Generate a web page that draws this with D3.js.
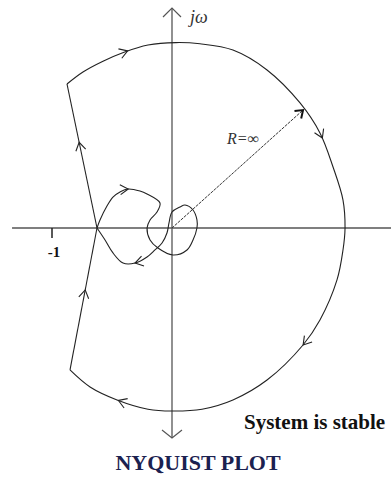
<!DOCTYPE html>
<html>
<head>
<meta charset="utf-8">
<script src="https://cdn.jsdelivr.net/npm/d3@7"></script>
<style>
  body { margin: 0; background: #fff; }
  svg { display: block; }
  .serif { font-family: "Liberation Serif", "Times New Roman", serif; }
</style>
</head>
<body>
<svg id="chart" width="391" height="478"></svg>
<script>
// contour points in the G(s)H(s) plane, [re, im]
var arcPts = [
  [-0.875, 1.2], [-0.742, 1.3], [-0.575, 1.39], [-0.4, 1.465], [-0.2, 1.525],
  [0.033, 1.545], [0.233, 1.535], [0.508, 1.483], [0.792, 1.317], [1.067, 1.042],
  [1.233, 0.792], [1.342, 0.508], [1.425, 0.233], [1.442, 0], [1.425, -0.183],
  [1.375, -0.433], [1.233, -0.767], [1.092, -0.975], [0.792, -1.267], [0.508, -1.433],
  [0.25, -1.51], [0, -1.525], [-0.2, -1.51], [-0.458, -1.433], [-0.683, -1.325],
  [-0.85, -1.183]
];
var lowerLeft = [[-0.85, -1.183], [-0.625, 0]];
var upperLeft = [[-0.625, 0], [-0.875, 1.2]];

var loopPts = [
  [-0.625, 0], [-0.6, 0.067], [-0.542, 0.183], [-0.492, 0.258], [-0.433, 0.3],
  [-0.367, 0.325], [-0.267, 0.308], [-0.208, 0.283], [-0.1, 0.208], [-0.125, 0.133],
  [-0.183, 0.067], [-0.208, 0], [-0.183, -0.1], [-0.117, -0.167], [0.008, -0.225],
  [0.125, -0.183], [0.175, -0.1], [0.208, 0], [0.208, 0.067], [0.175, 0.15],
  [0.108, 0.192], [0.067, 0.175], [0, 0.133], [-0.025, 0.042], [-0.042, -0.042],
  [-0.083, -0.125], [-0.142, -0.183], [-0.208, -0.242], [-0.308, -0.292], [-0.408, -0.292],
  [-0.492, -0.208], [-0.558, -0.1], [-0.625, 0]
];

// R = infinity radius vector
var radius = [[0, 0], [1.092, 0.983]];

// direction arrows: which curve, and roughly where
var arrows = [
  { on: "arc", at: [-0.375, 1.492] },
  { on: "arc", at: [1.25, 0.75] },
  { on: "arc", at: [1.092, -0.975] },
  { on: "arc", at: [-0.45, -1.442] },
  { on: "lowerLeft", at: [-0.708, -0.517] },
  { on: "upperLeft", at: [-0.792, 0.708] },
  { on: "loop", at: [-0.367, 0.325] },
  { on: "loop", at: [-0.308, -0.292] }
];

var reRange = [-1.333, 1.825];
var imRange = [-1.75, 1.833];
var ticks = [-1];

var svg = d3.select("#chart");
var x = d3.scaleLinear().domain([-1, 0]).range([52, 172]);
var y = d3.scaleLinear().domain([0, 1]).range([228, 108]);

var ink = "#222";
var axisInk = "#555";

// axes
svg.append("line")
  .attr("x1", x(reRange[0])).attr("x2", x(reRange[1]))
  .attr("y1", y(0)).attr("y2", y(0))
  .attr("stroke", axisInk).attr("stroke-width", 1.3);
svg.append("line")
  .attr("x1", x(0)).attr("x2", x(0))
  .attr("y1", y(imRange[1])).attr("y2", y(imRange[0]))
  .attr("stroke", axisInk).attr("stroke-width", 1.3);

// open arrowheads
function chevron(g, px, py, ang, len, spread, w, col) {
  g.append("path")
    .attr("d", "M" + (-len) + "," + (-spread) + " L0,0 L" + (-len) + "," + spread)
    .attr("transform", "translate(" + px + "," + py + ") rotate(" + (ang * 180 / Math.PI) + ")")
    .attr("fill", "none").attr("stroke", col).attr("stroke-width", w)
    .attr("stroke-linejoin", "miter");
}
chevron(svg, x(0), y(imRange[1]), -Math.PI / 2, 9, 9, 1.2, axisInk);
chevron(svg, x(0), y(imRange[0]), Math.PI / 2, 8, 10, 1.2, axisInk);

// tick at -1
ticks.forEach(function(t) {
  svg.append("line")
    .attr("x1", x(t)).attr("x2", x(t))
    .attr("y1", y(0)).attr("y2", y(0) + 10)
    .attr("stroke", ink).attr("stroke-width", 1.5);
  svg.append("text").attr("class", "serif")
    .attr("x", x(t) + 2).attr("y", 257)
    .attr("text-anchor", "middle")
    .attr("font-size", 15).attr("font-weight", "bold")
    .attr("fill", "#111")
    .text(t);
});

// curves
var smooth = d3.line().x(function(d) { return x(d[0]); }).y(function(d) { return y(d[1]); })
  .curve(d3.curveCatmullRom.alpha(0.5));
var straight = d3.line().x(function(d) { return x(d[0]); }).y(function(d) { return y(d[1]); });

var paths = {};
paths.arc = svg.append("path").attr("d", smooth(arcPts));
paths.lowerLeft = svg.append("path").attr("d", straight(lowerLeft));
paths.upperLeft = svg.append("path").attr("d", straight(upperLeft));
paths.loop = svg.append("path").attr("d", smooth(loopPts));
Object.keys(paths).forEach(function(k) {
  paths[k].attr("fill", "none").attr("stroke", ink).attr("stroke-width", 1.1);
});

// radius vector
svg.append("path").attr("d", straight(radius))
  .attr("fill", "none").attr("stroke", "#333").attr("stroke-width", 1)
  .attr("stroke-dasharray", "3,1");
var r0 = radius[0], r1 = radius[1];
chevron(svg, x(r1[0]), y(r1[1]),
  Math.atan2(y(r1[1]) - y(r0[1]), x(r1[0]) - x(r0[0])), 7, 5, 2, "#111");

// direction arrows, oriented along their curve
arrows.forEach(function(a) {
  var node = paths[a.on].node();
  var L = node.getTotalLength();
  var px = x(a.at[0]), py = y(a.at[1]);
  var best = 0, bd = Infinity;
  for (var s = 0; s <= L; s += 0.5) {
    var p = node.getPointAtLength(s);
    var d = (p.x - px) * (p.x - px) + (p.y - py) * (p.y - py);
    if (d < bd) { bd = d; best = s; }
  }
  var pt = node.getPointAtLength(best);
  var p1 = node.getPointAtLength(Math.max(0, best - 3));
  var p2 = node.getPointAtLength(Math.min(L, best + 3));
  chevron(svg, pt.x, pt.y, Math.atan2(p2.y - p1.y, p2.x - p1.x), 8, 5, 1.1, ink);
});

// labels
svg.append("text").attr("class", "serif")
  .attr("x", 190).attr("y", 23)
  .attr("font-size", 18).attr("font-style", "italic").attr("fill", "#333")
  .text("jω");
svg.append("text").attr("class", "serif")
  .attr("x", 227).attr("y", 144)
  .attr("font-size", 16).attr("font-style", "italic").attr("fill", "#333")
  .text("R=∞");
svg.append("text").attr("class", "serif")
  .attr("x", 244).attr("y", 429)
  .attr("font-size", 21).attr("font-weight", "bold").attr("fill", "#111")
  .text("System is stable");
svg.append("text").attr("class", "serif")
  .attr("x", 198).attr("y", 470)
  .attr("text-anchor", "middle")
  .attr("font-size", 22).attr("font-weight", "bold").attr("fill", "#1b2150")
  .text("NYQUIST PLOT");
</script>
</body>
</html>
